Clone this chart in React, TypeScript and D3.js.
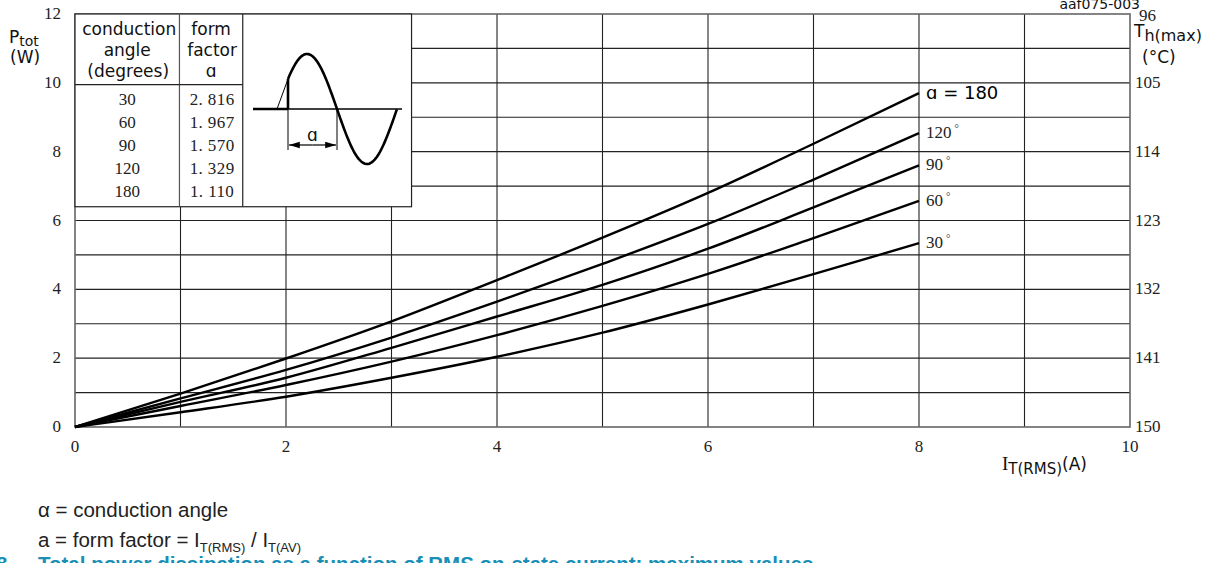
import React from 'react';
import * as d3 from 'd3';

// I_T(RMS) sample points (A) and P_tot readings (W) for each conduction angle
const currents = [0, 1, 2, 3, 4, 5, 6, 7, 8];
const p30 = [0, 0.43, 0.88, 1.43, 2.04, 2.74, 3.56, 4.44, 5.34];
const p60 = [0, 0.61, 1.22, 1.9, 2.67, 3.52, 4.45, 5.49, 6.57];
const p90 = [0, 0.73, 1.43, 2.3, 3.21, 4.13, 5.18, 6.38, 7.6];
const p120 = [0, 0.83, 1.66, 2.6, 3.64, 4.74, 5.9, 7.19, 8.54];
const p180 = [0, 0.97, 1.99, 3.07, 4.27, 5.5, 6.8, 8.23, 9.7];

const curveNames = ['30', '60', '90', '120', '180'];
const curveValues = [p30, p60, p90, p120, p180];

const tableAngles = ['30', '60', '90', '120', '180'];
const tableFactors = ['2.816', '1.967', '1.570', '1.329', '1.110'];

const xTicks = [0, 2, 4, 6, 8, 10];
const yTicks = [0, 2, 4, 6, 8, 10, 12];
const tempTicks = [150, 141, 132, 123, 114, 105, 96];

const SERIF = '"Liberation Serif", "DejaVu Serif", serif';
const SANS = '"DejaVu Sans", Verdana, sans-serif';
const ARIAL = '"Liberation Sans", Arial, sans-serif';

function App() {
  const x = d3.scaleLinear().domain([0, 10]).range([75, 1130]);
  const y = d3.scaleLinear().domain([0, 12]).range([427, 14]);
  const yT = d3.scaleLinear().domain([150, 96]).range([427, 14]);

  const line = d3.line<number>()
    .x((d, i) => x(currents[i]))
    .y(d => y(d))
    .curve(d3.curveMonotoneX);

  const gridX = d3.range(1, 10);
  const gridY = d3.range(1, 12);

  // table box: from I=0 to about I=3.19, P from 6.4 to 12
  const tL = x(0), tR = x(3.19), tT = y(12), tB = y(6.4);
  const c1 = x(0.99), c2 = x(1.59), hdr = y(9.95);

  // waveform icon inside the table
  const wx = d3.scaleLinear().domain([0, 2 * Math.PI]).range([277, 397]);
  const wy = d3.scaleLinear().domain([-1, 1]).range([164, 54]);
  const th0 = Math.PI * 11 / 60;
  const wave = d3.range(th0, 2 * Math.PI + 0.001, 0.05).map(t => [wx(t), wy(Math.sin(t))] as [number, number]);
  const wavePath = d3.line()(wave) || '';
  const base = wy(0);
  const xa = wx(th0), xb = wx(Math.PI);

  return (
    <svg width={1210} height={563} style={{ position: 'absolute', left: 0, top: 0, background: '#fff' }}>
      <defs>
        <marker id="arr" viewBox="0 0 10 10" refX="10" refY="5" markerWidth="9" markerHeight="9" orient="auto-start-reverse">
          <path d="M0,2 L10,5 L0,8 Z" fill="#000" />
        </marker>
      </defs>

      {/* grid */}
      {gridX.map(v => (
        <line key={'gx' + v} x1={x(v)} x2={x(v)} y1={y(0)} y2={y(12)} stroke="#222" strokeWidth={1.1} />
      ))}
      {gridY.map(v => (
        <line key={'gy' + v} x1={x(0)} x2={x(10)} y1={y(v)} y2={y(v)} stroke="#222" strokeWidth={1.1} />
      ))}
      <rect x={x(0)} y={y(12)} width={x(10) - x(0)} height={y(0) - y(12)} fill="none" stroke="#666" strokeWidth={1.6} />

      {/* left axis labels */}
      {yTicks.map(v => (
        <text key={'yl' + v} x={61} y={y(v) + 5} textAnchor="end" fontFamily={SERIF} fontSize={17} fill="#222">{v}</text>
      ))}
      {/* right axis labels */}
      {tempTicks.map(v => (
        <text key={'tl' + v} x={v === 96 ? 1139 : 1135} y={v === 96 ? yT(v) + 7 : yT(v) + 5} fontFamily={SERIF} fontSize={17} fill="#222">{v}</text>
      ))}
      {/* x axis labels */}
      {xTicks.map(v => (
        <text key={'xl' + v} x={x(v)} y={452} textAnchor="middle" fontFamily={SERIF} fontSize={17} fill="#222">{v}</text>
      ))}

      {/* curves */}
      {curveValues.map((vals, i) => (
        <path key={'c' + curveNames[i]} d={line(vals) || ''} fill="none" stroke="#000" strokeWidth={2.4} />
      ))}
      {curveValues.map((vals, i) => {
        const last = vals[vals.length - 1];
        const lx = x(currents[currents.length - 1]) + 7;
        if (curveNames[i] === '180') {
          return (
            <text key={'lb' + i} x={lx} y={y(last) + 6} fontFamily={SANS} fontSize={18} fill="#000">ɑ = 180</text>
          );
        }
        return (
          <text key={'lb' + i} x={lx} y={y(last) + 5} fontFamily={SERIF} fontSize={17} fill="#222">
            {curveNames[i]}
            <tspan dx={3} dy={-6} fontSize={11}>°</tspan>
          </text>
        );
      })}

      {/* table */}
      <rect x={tL} y={tT} width={tR - tL} height={tB - tT} fill="#fff" stroke="#222" strokeWidth={1.2} />
      <line x1={c1} x2={c1} y1={tT} y2={tB} stroke="#555" strokeWidth={1.2} />
      <line x1={c2} x2={c2} y1={tT} y2={tB} stroke="#222" strokeWidth={1.2} />
      <line x1={tL} x2={c2} y1={hdr} y2={hdr} stroke="#222" strokeWidth={1.2} />
      <g fontFamily={SANS} fontSize={17} fill="#111" textAnchor="middle">
        <text x={(tL + c1) / 2 + 2} y={35}>conduction</text>
        <text x={(tL + c1) / 2} y={56}>angle</text>
        <text x={(tL + c1) / 2 + 1} y={77}>(degrees)</text>
        <text x={(c1 + c2) / 2} y={35}>form</text>
        <text x={(c1 + c2) / 2 + 1} y={56}>factor</text>
        <text x={(c1 + c2) / 2} y={77}>ɑ</text>
      </g>
      {tableAngles.map((a, i) => (
        <text key={'ta' + a} x={(tL + c1) / 2} y={105 + i * 23} textAnchor="middle" fontFamily={SERIF} fontSize={17} fill="#222">{a}</text>
      ))}
      {tableFactors.map((f, i) => (
        <text key={'tf' + f} x={(c1 + c2) / 2 + 1} y={105 + i * 23} textAnchor="middle" fontFamily={SERIF} fontSize={17} fill="#222" letterSpacing={0.4}>
          {f.replace('.', '. ')}
        </text>
      ))}

      {/* waveform icon */}
      <line x1={253} x2={402} y1={base} y2={base} stroke="#000" strokeWidth={1.4} />
      <line x1={253} x2={xa} y1={base} y2={base} stroke="#000" strokeWidth={2.6} />
      <line x1={wx(0)} x2={xa} y1={base} y2={wy(Math.sin(th0))} stroke="#000" strokeWidth={1} />
      <line x1={xa} x2={xa} y1={base} y2={wy(Math.sin(th0))} stroke="#000" strokeWidth={2.6} />
      <path d={wavePath} fill="none" stroke="#000" strokeWidth={2.6} />
      <line x1={xa} x2={xa} y1={base} y2={150} stroke="#000" strokeWidth={1} />
      <line x1={xb} x2={xb} y1={base} y2={150} stroke="#000" strokeWidth={1} />
      <line x1={(xa + xb) / 2} x2={xa + 1} y1={145} y2={145} stroke="#000" strokeWidth={1.2} markerEnd="url(#arr)" />
      <line x1={(xa + xb) / 2} x2={xb - 1} y1={145} y2={145} stroke="#000" strokeWidth={1.2} markerEnd="url(#arr)" />
      <text x={(xa + xb) / 2} y={141} textAnchor="middle" fontFamily={SANS} fontSize={17} fill="#111">ɑ</text>

      {/* axis titles */}
      <text x={9} y={43} fontFamily={SANS} fontSize={17} fill="#111">P<tspan fontSize={14} dy={3}>tot</tspan></text>
      <text x={10} y={63} fontFamily={SANS} fontSize={17} fill="#111">(W)</text>
      <text x={1134} y={37} fontFamily={SANS} fontSize={17} fill="#111">T<tspan fontSize={16} dy={4}>h(max)</tspan></text>
      <text x={1142} y={63} fontFamily={SANS} fontSize={17} fill="#111">(°C)</text>
      <text x={1140} y={9} textAnchor="end" fontFamily={SANS} fontSize={14} fill="#111">aaf075-003</text>
      <text x={1087} y={470} textAnchor="end" fontFamily={SANS} fontSize={17} fill="#111">
        <tspan fontFamily={SERIF} fontSize={19}>I</tspan><tspan fontSize={15} dy={4}>T(RMS)</tspan><tspan dy={-4}>(A)</tspan>
      </text>

      {/* notes */}
      <text x={38} y={517} fontFamily={ARIAL} fontSize={20.5} fill="#222">α = conduction angle</text>
      <text x={38} y={547} fontFamily={ARIAL} fontSize={20.5} fill="#222">
        a = form factor = I<tspan fontSize={13} dy={5}>T(RMS)</tspan><tspan dy={-5}> / I</tspan><tspan fontSize={13} dy={5}>T(AV)</tspan>
      </text>
      <text x={-4} y={571} fontFamily={ARIAL} fontSize={20.5} fontWeight="bold" fill="#1a8fb6">8</text>
      <text x={38} y={571} fontFamily={ARIAL} fontSize={20.5} fontWeight="bold" fill="#1a8fb6">
        Total power dissipation as a function of RMS on-state current; maximum values
      </text>
    </svg>
  );
}

export default App;
